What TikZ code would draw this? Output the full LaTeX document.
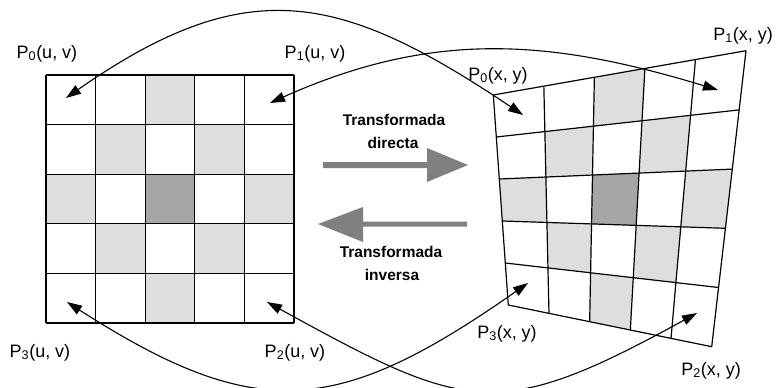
\documentclass[tikz,border=0pt]{standalone}
\usepackage{fontspec}
\setmainfont{Liberation Sans}
\usepackage{xcolor}
\usepackage{tikz}
\usetikzlibrary{calc, arrows.meta, positioning}

\tikzset{
    gridline/.style={line width=1.2pt},
    cellA/.style={fill=black!13},
    cellB/.style={fill=black!35},
    link/.style={<->, line width=1.1pt},
    bigarrow/.style={fill=black!50},
    lbl/.style={anchor=base, inner sep=0pt, font=\fontsize{18}{20}\selectfont},
    bold/.style={anchor=base, inner sep=0pt, font=\bfseries\fontsize{15.5}{18}\selectfont}
}
\newcommand{\pnt}[2]{P\textsubscript{#1}(#2)}

\begin{document}
\begin{tikzpicture}[>={Triangle[length=15pt,width=10pt]}, x=1pt, y=-1pt]
    \useasboundingbox (0,0) rectangle (777,388);

    % Rejilla original (u, v)
    \foreach \c/\r/\s in {2/0/cellA, 1/1/cellA, 3/1/cellA, 0/2/cellA, 2/2/cellB,
                          4/2/cellA, 1/3/cellA, 3/3/cellA, 2/4/cellA} {
        \fill[\s] (46+49.6*\c, 75+49.6*\r) rectangle ++(49.6,49.6);
    }
    \foreach \k in {0,...,5} {
        \draw[gridline] (46+49.6*\k,75) -- (46+49.6*\k,323);
        \draw[gridline] (46,75+49.6*\k) -- (294,75+49.6*\k);
    }

    % Rejilla transformada (x, y)
    \coordinate (tl) at (493.3,95);
    \coordinate (tr) at (746,50.7);
    \coordinate (bl) at (508.3,305);
    \coordinate (br) at (711.7,346.7);
    \foreach \i in {0,...,5} {
        \foreach \j in {0,...,5} {
            \pgfmathsetmacro\fu{\i/5}
            \pgfmathsetmacro\fv{\j/5}
            \coordinate (g-\i-\j) at ($($(tl)!\fu!(tr)$)!\fv!($(bl)!\fu!(br)$)$);
        }
    }
    \foreach \c/\r/\s in {2/0/cellA, 1/1/cellA, 3/1/cellA, 0/2/cellA, 2/2/cellB,
                          4/2/cellA, 1/3/cellA, 3/3/cellA, 2/4/cellA} {
        \pgfmathtruncatemacro\cc{\c+1}
        \pgfmathtruncatemacro\rr{\r+1}
        \fill[\s] (g-\c-\r) -- (g-\cc-\r) -- (g-\cc-\rr) -- (g-\c-\rr) -- cycle;
    }
    \foreach \k in {0,...,5} {
        \draw[gridline] (g-\k-0) -- (g-\k-5);
        \draw[gridline] (g-0-\k) -- (g-5-\k);
    }

    % Etiquetas de las esquinas
    \node[lbl] (p0uv) at (47,58) {\pnt{0}{u, v}};
    \node[lbl] (p1uv) at (315,58) {\pnt{1}{u, v}};
    \node[lbl] (p3uv) at (40,357) {\pnt{3}{u, v}};
    \node[lbl] (p2uv) at (295,357) {\pnt{2}{u, v}};
    \node[lbl] (p0xy) at (498,80) {\pnt{0}{x, y}};
    \node[lbl] (p1xy) at (743,40) {\pnt{1}{x, y}};
    \node[lbl] (p3xy) at (507,338) {\pnt{3}{x, y}};
    \node[lbl] (p2xy) at (711,375) {\pnt{2}{x, y}};

    % Flechas grandes
    \fill[bigarrow] (323,162) -- (427,162) -- (427,148) -- (468,165)
        -- (427,182) -- (427,168) -- (323,168) -- cycle;
    \fill[bigarrow] (467,221.5) -- (363,221.5) -- (363,207) -- (318,224)
        -- (363,242) -- (363,226.5) -- (467,226.5) -- cycle;
    \node[bold] (dir1) at (394,125) {Transformada};
    \node[bold] (dir2) at (393,148) {directa};
    \node[bold] (inv1) at (391,257) {Transformada};
    \node[bold] (inv2) at (392,280) {inversa};

    % Correspondencia de esquinas
    \coordinate (a0) at (66,98);
    \coordinate (a1) at (270,103);
    \coordinate (a3) at (67,302);
    \coordinate (a2) at (267,302);
    \coordinate (b0) at (523,115);
    \coordinate (b1) at (718,90);
    \coordinate (b3) at (528,283);
    \coordinate (b2) at (697,313);
    \draw[link] (a0) .. controls (248,-29) and (341,-7) .. (b0);
    \draw[link] (a1) .. controls (435,29) and (553,40) .. (b1);
    \draw[link] (a3) .. controls (257,424) and (338,416) .. (b3);
    \draw[link] (a2) .. controls (467,412) and (497,423) .. (b2);
\end{tikzpicture}
\end{document}
